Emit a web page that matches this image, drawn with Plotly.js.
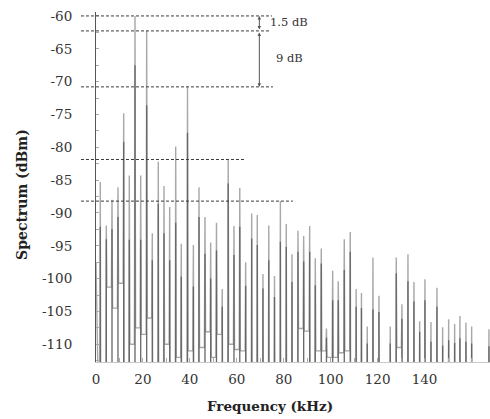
<!DOCTYPE html>
<html>
<head>
<meta charset="utf-8">
<script src="https://cdn.plot.ly/plotly-3.0.1.min.js"></script>
<style>html,body{margin:0;padding:0;background:#fff;}#chart{width:490px;height:419px;}</style>
</head>
<body>
<div id="chart"></div>
<script>
// ---- Data ----
// spectral line frequencies (kHz)
const peakFreq = [1.83, 4.39, 6.82, 9.37, 11.80, 14.19, 16.62, 19.05, 21.60, 23.99,
  26.54, 28.97, 31.40, 33.96, 36.34, 38.99, 41.50, 43.89, 46.44, 48.87,
  51.34, 53.81, 56.33, 58.80, 61.27, 63.78, 66.34, 68.73, 71.15, 73.63,
  76.06, 78.57, 81.08, 83.51, 86.07, 88.50, 91.05, 93.44, 96.00, 98.21,
  100.85, 103.24, 105.80, 108.35, 110.86, 113.12, 115.59, 118.02, 120.58, 125.39,
  127.95, 130.38, 132.94, 135.49, 137.92, 140.18, 142.74, 145.29, 147.72, 150.28,
  152.83, 155.09, 157.65, 160.08, 167.45];
// spectrum level at each line, light trace (dBm)
const peakLevel = [-85.3, -91.9, -88.0, -86.1, -74.8, -84.3, -60.0, -84.3, -62.3, -93.1,
  -82.2, -85.9, -89.1, -79.9, -94.7, -70.8, -94.9, -86.1, -90.6, -94.5,
  -91.5, -101.6, -81.9, -92.0, -86.2, -97.5, -90.1, -90.3, -99.3, -91.9,
  -99.6, -88.2, -91.7, -96.3, -92.7, -93.5, -92.0, -96.9, -95.4, -107.6,
  -98.8, -100.4, -94.0, -92.9, -101.6, -102.2, -107.3, -96.8, -102.6, -107.3,
  -96.8, -103.9, -96.3, -100.5, -106.5, -100.1, -106.6, -101.4, -107.4, -106.2,
  -106.9, -105.7, -106.7, -107.3, -107.7];
// spectrum level at each line, dark trace (dBm)
const darkLevel = [-92.1, -94.0, -92.5, -90.6, -79.2, -94.1, -67.5, -94.1, -73.6, -97.2,
  -88.6, -93.1, -97.2, -91.5, -99.7, -77.8, -101.2, -90.6, -96.2, -100.0,
  -95.7, -104.3, -85.5, -96.4, -92.1, -101.1, -93.9, -94.9, -101.5, -97.2,
  -102.8, -94.4, -95.2, -100.5, -95.9, -97.4, -95.9, -101.0, -97.7, -109.0,
  -103.3, -103.3, -98.7, -95.9, -104.3, -104.5, -109.9, -104.7, -105.1, -109.9,
  -99.2, -106.1, -100.4, -103.5, -108.1, -103.3, -109.6, -104.3, -110.2, -109.4,
  -109.8, -109.1, -109.6, -109.9, -110.3];
// floor level of the light trace after each line, up to the next line (dBm)
const floorLevel = [-130, -101.3, -104.5, -100.7, -130, -110, -107.5, -108.5, -106, -130,
  -130, -110, -130, -112, -130, -111, -130, -110.5, -108.1, -112,
  -108.5, -130, -110, -110.8, -111, -130, -130, -130, -130, -130,
  -130, -130, -130, -130, -107.6, -108, -130, -111, -111, -112,
  -112, -111.3, -111, -130, -130, -130, -130, -130, -130, -130,
  -110.5, -130, -130, -130, -130, -130, -130, -130, -130, -130,
  -130, -130, -130, -130, -130];
const startFreq = 0, startLevel = -97.5, startFloor = -130;

const xTickVals = [0, 20, 40, 60, 80, 100, 120, 140];
const xTickText = ['0', '20', '40', '60', '80', '100', '120', '140'];
const yTickVals = [-60, -65, -70, -75, -80, -85, -90, -95, -100, -105, -110];
const yTickText = ['-60', '-65', '-70', '-75', '-80', '-85', '-90', '-95', '-100', '-105', '-110'];

// reference (dashed) levels and their horizontal extent in kHz
const refLevel = [-60, -62.28, -70.8, -81.86, -88.2];
const refStart = [-6.4, -6.4, -6.4, -6.4, -6.4];
const refEnd = [75.0, 74.1, 75.4, 63.5, 83.9];
const dimFreq = 69.6;
const dimText = ['1.5 dB', '9 dB'];

// ---- Build the traces (each line drawn as a narrow spike) ----
const xr = [0, 167.9];
const yr = [-112.7, -59.4];
const w = 0.25;
const xs = [startFreq], ys = [startLevel];
for (let i = 0; i < peakFreq.length; i++) {
  const before = i === 0 ? startFloor : floorLevel[i - 1];
  xs.push(peakFreq[i] - w); ys.push(before);
  xs.push(peakFreq[i]); ys.push(peakLevel[i]);
  xs.push(peakFreq[i] + w); ys.push(floorLevel[i]);
}
const dx = [], dy = [];
for (let i = 0; i < peakFreq.length; i++) {
  dx.push(peakFreq[i], peakFreq[i], null);
  dy.push(darkLevel[i], yr[0] - 5, null);
}

const serif = 'DejaVu Serif, Liberation Serif, serif';
const toPaper = f => (f - xr[0]) / (xr[1] - xr[0]);

const shapes = refLevel.map((lv, i) => ({
  type: 'line', xref: 'paper', yref: 'y',
  x0: toPaper(refStart[i]), x1: toPaper(refEnd[i]), y0: lv, y1: lv,
  line: {color: '#3a3a3a', width: 1, dash: '3px,2px'}
}));

const annotations = [
  {x: dimFreq, y: refLevel[0], ax: dimFreq, ay: refLevel[1], xref: 'x', yref: 'y', axref: 'x', ayref: 'y',
   text: '', showarrow: true, arrowhead: 2, arrowside: 'end+start', arrowsize: 0.7, arrowwidth: 1, arrowcolor: '#555'},
  {x: dimFreq, y: refLevel[2], ax: dimFreq, ay: refLevel[1], xref: 'x', yref: 'y', axref: 'x', ayref: 'y',
   text: '', showarrow: true, arrowhead: 2, arrowside: 'end+start', arrowsize: 0.7, arrowwidth: 1, arrowcolor: '#555'},
  {x: 82.4, y: -60.96, xref: 'x', yref: 'y', text: dimText[0], showarrow: false,
   xanchor: 'center', yanchor: 'middle', font: {family: serif, size: 11.5, color: '#333'}},
  {x: 82.4, y: -66.4, xref: 'x', yref: 'y', text: dimText[1], showarrow: false,
   xanchor: 'center', yanchor: 'middle', font: {family: serif, size: 11.5, color: '#333'}},
  {x: -0.188, y: 0.48, xref: 'paper', yref: 'paper', text: '<b>Spectrum (dBm)</b>', textangle: -90,
   xanchor: 'center', yanchor: 'middle', showarrow: false, font: {family: serif, size: 14, color: '#222'}},
  {x: 0.4416, y: -0.126, xref: 'paper', yref: 'paper', text: '<b>Frequency (kHz)</b>',
   xanchor: 'center', yanchor: 'middle', showarrow: false, font: {family: serif, size: 13.5, color: '#222'}}
];

const lightTrace = {
  x: xs, y: ys, type: 'scatter', mode: 'lines',
  line: {color: '#a8a8a8', width: 1.4},
  hoverinfo: 'skip', showlegend: false
};
const darkTrace = {
  x: dx, y: dy, type: 'scatter', mode: 'lines', connectgaps: false,
  line: {color: '#666666', width: 1.3},
  hoverinfo: 'skip', showlegend: false
};

const layout = {
  width: 490, height: 419,
  margin: {l: 96, r: 0, t: 12, b: 57, pad: 0},
  paper_bgcolor: '#fff', plot_bgcolor: '#fff',
  showlegend: false,
  xaxis: {
    range: xr, tickmode: 'array', tickvals: xTickVals, ticktext: xTickText,
    showgrid: false, zeroline: false, showline: true, linecolor: '#c8c8c8', linewidth: 1,
    ticks: 'inside', ticklen: 4, tickcolor: '#aaa', ticklabelstandoff: 5,
    minor: {dtick: 10, tick0: 0, ticks: 'inside', ticklen: 4, tickcolor: '#aaa'},
    tickfont: {family: serif, size: 13.5, color: '#333'}
  },
  yaxis: {
    range: yr, tickmode: 'array', tickvals: yTickVals, ticktext: yTickText,
    showgrid: false, zeroline: false, showline: true, linecolor: '#555', linewidth: 1,
    ticks: 'inside', ticklen: 3, tickcolor: '#aaa', ticklabelstandoff: 20,
    minor: {dtick: 2.5, tick0: -60, ticks: 'inside', ticklen: 3, tickcolor: '#aaa'},
    tickfont: {family: serif, size: 13.5, color: '#333'}
  },
  shapes: shapes,
  annotations: annotations
};

Plotly.newPlot('chart', [lightTrace, darkTrace], layout, {staticPlot: true, displayModeBar: false});
</script>
</body>
</html>
